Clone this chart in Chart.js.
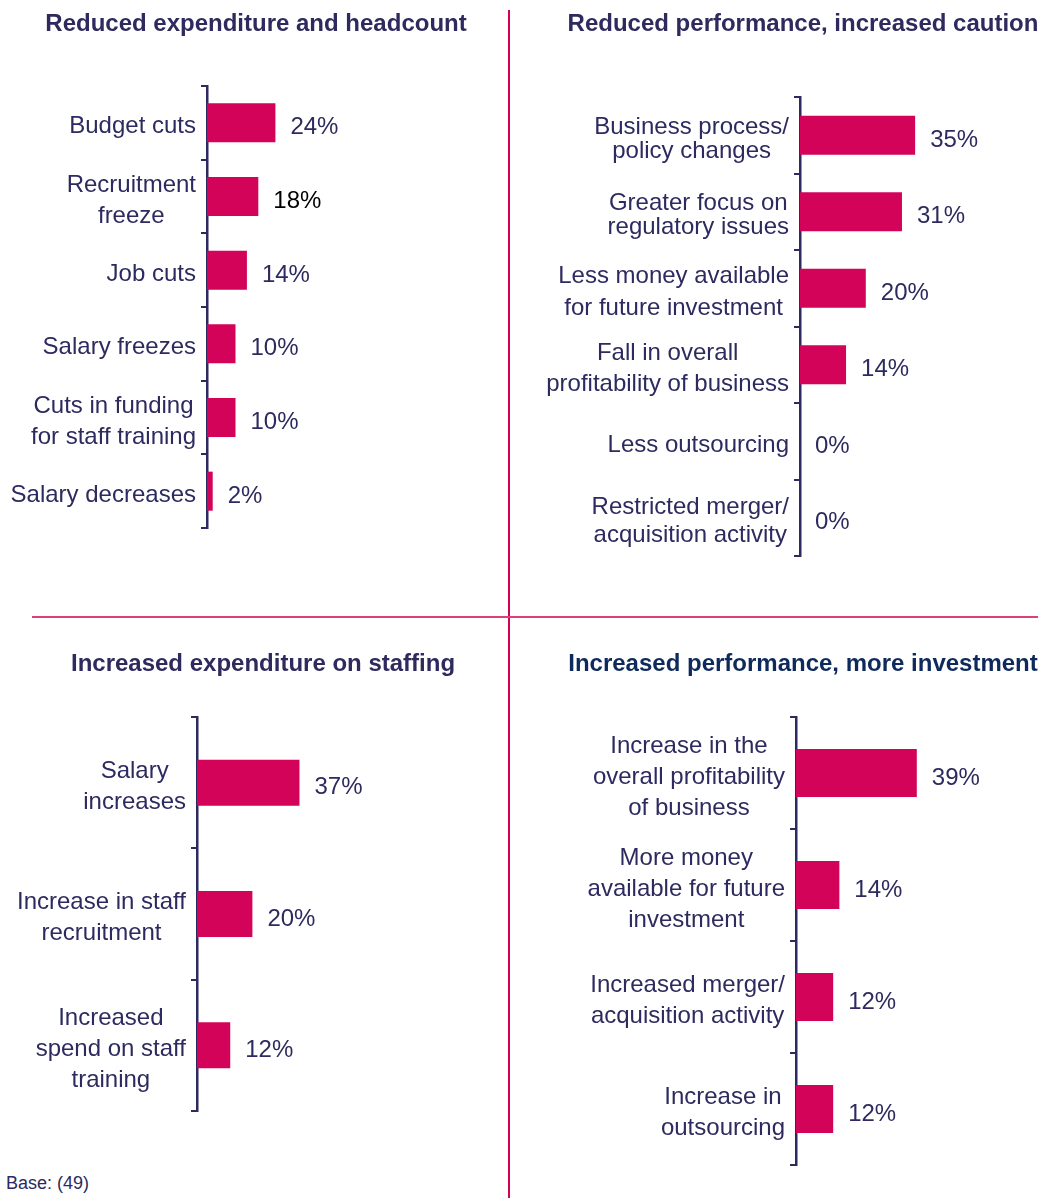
<!DOCTYPE html>
<html>
<head>
<meta charset="utf-8">
<script src="https://cdn.jsdelivr.net/npm/chart.js@4.4.1/dist/chart.umd.min.js"></script>
<style>
  body { margin: 0; background: #fff; font-family: "Liberation Sans", Arial, sans-serif; }
  #page { position: relative; width: 1050px; height: 1198px; overflow: hidden; }
  .box { position: absolute; }
  .vline { position: absolute; left: 508px; top: 10px; width: 2px; height: 1188px; background: #d4005a; }
  .hline { position: absolute; left: 32px; top: 616px; width: 1006px; height: 2px; background: #dc3f7a; }
  .base { position: absolute; left: 6px; top: 1173px; font-size: 18px; color: #2d2a5f; }
</style>
</head>
<body>
<div id="page">
  <div class="box" style="left:0;top:0;width:512px;height:540px"><canvas id="c1"></canvas></div>
  <div class="box" style="left:530px;top:0;width:520px;height:568px"><canvas id="c2"></canvas></div>
  <div class="box" style="left:0;top:630px;width:526px;height:492px"><canvas id="c3"></canvas></div>
  <div class="box" style="left:530px;top:630px;width:520px;height:546px"><canvas id="c4"></canvas></div>
  <div class="vline"></div>
  <div class="hline"></div>
  <div class="base">Base: (49)</div>
</div>
<script>
// chart 1 - reduced expenditure and headcount
const cutLabels = ['Budget cuts', ['Recruitment', 'freeze'], 'Job cuts', 'Salary freezes',
  ['Cuts in funding', 'for staff training'], 'Salary decreases'];
const cutValues = [24, 18, 14, 10, 10, 2];

// chart 2 - reduced performance, increased caution
const cautionLabels = [['Business process/', 'policy changes'], ['Greater focus on', 'regulatory issues'],
  ['Less money available', 'for future investment'], ['Fall in overall', 'profitability of business'],
  'Less outsourcing', ['Restricted merger/', 'acquisition activity']];
const cautionValues = [35, 31, 20, 14, 0, 0];

// chart 3 - increased expenditure on staffing
const staffLabels = [['Salary', 'increases'], ['Increase in staff', 'recruitment'],
  ['Increased', 'spend on staff', 'training']];
const staffValues = [37, 20, 12];

// chart 4 - increased performance, more investment
const investLabels = [['Increase in the', 'overall profitability', 'of business'],
  ['More money', 'available for future', 'investment'],
  ['Increased merger/', 'acquisition activity'], ['Increase in', 'outsourcing']];
const investValues = [39, 14, 12, 12];

const NAVY = '#2d2a5f';
const BAR = '#d4035a';
const FONT = '"Liberation Sans", Arial, sans-serif';

// draws the category labels (centred lines, right-aligned block) and value labels
const labelPlugin = {
  id: 'labels',
  afterDraw(chart, args, opts) {
    const ctx = chart.ctx;
    const yScale = chart.scales.y;
    const meta = chart.getDatasetMeta(0);
    ctx.save();
    ctx.font = '24px ' + FONT;
    ctx.textBaseline = 'middle';
    chart.data.labels.forEach((lab, i) => {
      const lines = Array.isArray(lab) ? lab : [lab];
      const w = Math.max(...lines.map(l => ctx.measureText(l).width));
      const cx = yScale.right - 11 - w / 2;
      const cy = yScale.getPixelForTick(i);
      const lh = Array.isArray(opts.lineHeight) ? opts.lineHeight[i] : opts.lineHeight;
      ctx.fillStyle = NAVY;
      ctx.textAlign = 'center';
      lines.forEach((l, k) => {
        ctx.fillText(l, cx, cy + (k - (lines.length - 1) / 2) * lh + 4);
      });
      const bar = meta.data[i];
      ctx.textAlign = 'left';
      ctx.fillStyle = (opts.valueColors && opts.valueColors[i]) || NAVY;
      ctx.fillText(chart.data.datasets[0].data[i] + '%', bar.x + 15, bar.y + 5);
    });
    ctx.restore();
  }
};

function makeChart(id, title, titleColor, labels, values, s) {
  return new Chart(document.getElementById(id), {
    type: 'bar',
    data: {
      labels: labels,
      datasets: [{
        data: values,
        backgroundColor: BAR,
        borderWidth: 0,
        categoryPercentage: 1,
        barPercentage: s.barPct
      }]
    },
    plugins: [labelPlugin],
    options: {
      indexAxis: 'y',
      responsive: true,
      maintainAspectRatio: false,
      animation: false,
      layout: { padding: { left: s.padLeft, right: 0, top: 0, bottom: s.padBottom } },
      scales: {
        x: { display: false, min: 0, max: s.xMax },
        y: {
          afterFit(scale) { scale.width = s.axisX; },
          ticks: { display: false },
          grid: { drawOnChartArea: false, drawTicks: true, tickLength: 6, color: NAVY, lineWidth: 2 },
          border: { display: true, color: NAVY, width: 2.5 }
        }
      },
      plugins: {
        legend: { display: false },
        tooltip: { enabled: false },
        title: {
          display: true,
          text: title,
          color: titleColor,
          font: { family: FONT, size: 24, weight: 'bold' },
          padding: { top: s.titleTop, bottom: s.titleBottom }
        },
        labels: { lineHeight: s.lineHeight, valueColors: s.valueColors }
      }
    }
  });
}

makeChart('c1', 'Reduced expenditure and headcount', '#2e2a5e', cutLabels, cutValues,
  { padLeft: 0, axisX: 207, xMax: 107, barPct: 0.53, titleTop: 9.6, titleBottom: 47.6, padBottom: 12, lineHeight: 31,
    valueColors: [null, '#000000'] });
makeChart('c2', 'Reduced performance, increased caution', '#2e2a5e', cautionLabels, cautionValues,
  { padLeft: 26, axisX: 244, xMax: 76, barPct: 0.51, titleTop: 9.6, titleBottom: 58.6, padBottom: 12,
    lineHeight: [24, 24, 32, 31, 0, 28] });
makeChart('c3', 'Increased expenditure on staffing', '#2e2a5e', staffLabels, staffValues,
  { padLeft: 0, axisX: 197, xMax: 118.8, barPct: 0.35, titleTop: 19.6, titleBottom: 38.6, padBottom: 11, lineHeight: 31 });
makeChart('c4', 'Increased performance, more investment', '#0e2a5c', investLabels, investValues,
  { padLeft: 26, axisX: 240, xMax: 82, barPct: 0.43, titleTop: 19.6, titleBottom: 38.6, padBottom: 11, lineHeight: 31 });
</script>
</body>
</html>
